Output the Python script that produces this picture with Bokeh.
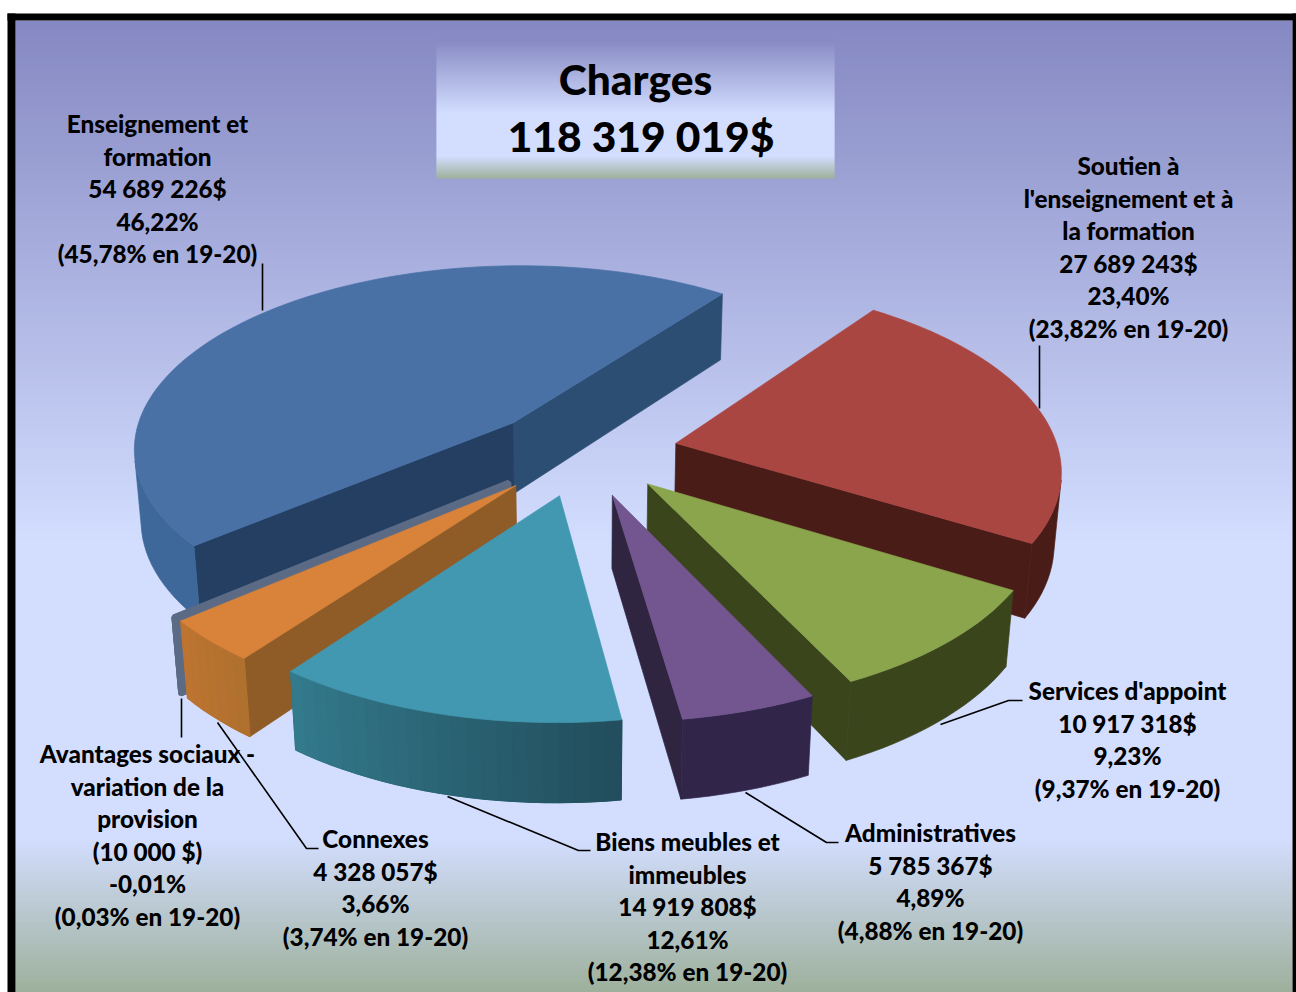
import numpy as np
from bokeh.plotting import figure, ColumnDataSource
from bokeh.embed import file_html
from bokeh.resources import INLINE
from bokeh.core.properties import value

# ---------- data ----------
categories = ["Enseignement et formation", "Avantages sociaux - variation de la provision", "Connexes",
              "Biens meubles et immeubles", "Administratives", "Services d'appoint",
              "Soutien à l'enseignement et à la formation"]
amounts = [54689226, -10000, 4328057, 14919808, 5785367, 10917318, 27689243]
name_lines = [["Enseignement et", "formation"], ["Avantages sociaux -", "variation de la", "provision"], ["Connexes"],
              ["Biens meubles et", "immeubles"], ["Administratives"], ["Services d'appoint"],
              ["Soutien à", "l'enseignement et à", "la formation"]]
amount_labels = ["54 689 226$", "(10 000 $)", "4 328 057$", "14 919 808$", "5 785 367$", "10 917 318$", "27 689 243$"]
pct_labels = ["46,22%", "-0,01%", "3,66%", "12,61%", "4,89%", "9,23%", "23,40%"]
prev_labels = ["(45,78% en 19-20)", "(0,03% en 19-20)", "(3,74% en 19-20)", "(12,38% en 19-20)",
               "(4,88% en 19-20)", "(9,37% en 19-20)", "(23,82% en 19-20)"]
title_lines = ["Charges", "118 319 019$"]

# ---------- style ----------
FONT = "Lato Black"
top_col = ["#4971A6", "#5B6A85", "#D9823A", "#4298B0", "#73558F", "#8AA54C", "#AA4642"]
rad_start = ["#2D4E73", "#5B6A85", "#8F5B26", "#2A5F70", "#2F2540", "#3A451C", "#4A1C18"]
rad_end = ["#253F62", "#5B6A85", "#8F5B26", "#2A5F70", "#2F2540", "#3A451C", "#4A1C18"]
arc_a = ["#3E689A", "#5B6A85", "#BC7430", "#337A8C", "#31264A", "#3A451C", "#4A1C18"]
arc_b = ["#3E689A", "#5B6A85", "#B0702E", "#224E5D", "#31264A", "#3A451C", "#4A1C18"]
label_pos = [(157, 123), (147, 753), (375, 838), (687, 841), (930, 832), (1127, 690), (1128, 165)]
LH = 32.5
leaders = [[(262, 263), (262, 310)], [(181, 698), (181, 737)], [(217, 722), (306, 848), (318, 848)],
           [(447, 796), (578, 850), (590, 850)], [(745, 792), (826, 842), (838, 842)],
           [(940, 724), (1008, 700), (1022, 700)], [(1039, 345), (1039, 408)]]

def hex2rgb(h):
    return np.array([int(h[i:i + 2], 16) for i in (1, 3, 5)], float)
def rgb2hex(c):
    return "#%02x%02x%02x" % tuple(int(round(v)) for v in c)

fr = np.abs(np.array(amounts, float)) / np.abs(np.array(amounts, float)).sum()

# projection of the pie: centre, radius, tilt, camera distance, first angle, thickness, explosion
P = [583.1159, 449.7085, 383.0309, 0.5042, 6.8344, 0.9318, 0.217]
EXPLODE = [0.2596, 0.2492, 0.2504, 0.2462, 0.2469, 0.242, 0.2471]
NUDGE_Y = [5, 2, 1, 0, 0, 0, 2]

def proj(x, y, z):
    cx, cy, R, t, D = P[:5]
    Y = y * np.sin(t) + z * np.cos(t)
    d = y * np.cos(t) - z * np.sin(t)
    s = D / (D + d)
    return cx + R * s * x, cy - R * s * Y

edges = P[5] + np.concatenate([[0], np.cumsum(fr) * 2 * np.pi])
a0, a1 = edges[:-1], edges[1:]

# ---------- figure ----------
p = figure(width=1296, height=992, x_range=(0, 1296), y_range=(992, 0), toolbar_location=None,
           output_backend="svg", min_border=0, outline_line_color=None, background_fill_color="white",
           border_fill_color="white")
p.axis.visible = False
p.grid.visible = False

STOPS = [0, .54, .84, 1]
COLS = [hex2rgb("#8588C2"), hex2rgb("#D3DEFF"), hex2rgb("#D3DEFF"), hex2rgb("#9DB09B")]
def grad(f):
    return rgb2hex([np.interp(f, STOPS, [c_[k] for c_ in COLS]) for k in range(3)])

def strips(x0, x1, y0, y1, step):
    ys = np.arange(y0, y1, step)
    cols = [grad((y + step/2 - y0) / (y1 - y0)) for y in ys]
    p.quad(left=x0, right=x1, top=ys, bottom=np.minimum(ys + step + .5, y1), fill_color=cols, line_color=None)

strips(15, 1292, 20, 992, 2)
strips(436, 834, 38, 178, 1)
# frame
p.quad(left=[7, 7, 1292], right=[15, 1296, 1296], top=[13, 13, 13], bottom=[992, 20, 992],
       fill_color="black", line_color=None)

# leaders
p.multi_line([[q[0] for q in l] for l in leaders], [[q[1] for q in l] for l in leaders], line_color="black", line_width=1.6)

# slices
xs, ys, fc, lc, lw = [], [], [], [], []
def add(px, py, f, w=.7):
    xs.append(list(px)); ys.append(list(py)); fc.append(f); lc.append(f); lw.append(w)

h = P[6]
for i in [0, 1, 2, 6, 5, 4, 3]:
    m = .5*(a0[i]+a1[i]); e = EXPLODE[i]
    ex, ey = e*np.cos(m), e*np.sin(m)
    th = np.linspace(a0[i], a1[i], max(2, int((a1[i]-a0[i]) / np.radians(2)) + 2))
    wx = np.concatenate([[ex], ex+np.cos(th)])
    wy = np.concatenate([[ey], ey+np.sin(th)])
    tx, ty = proj(wx, wy, 0.)
    bx, by = proj(wx, wy, -h)
    ty = ty + NUDGE_Y[i]; by = by + NUDGE_Y[i]
    n = len(wx)
    w = 5. if i == 1 else .7
    arc_segs = []
    for j in range(n):
        k = (j+1) % n
        qx = np.array([tx[j], tx[k], bx[k], bx[j]]); qy = np.array([ty[j], ty[k], by[k], by[j]])
        area = np.sum(qx*np.roll(qy, -1) - np.roll(qx, -1)*qy)
        if area <= 0 and i != 1:
            continue
        if j == 0:
            add(qx, qy, rad_start[i], w)
        elif j == n-1:
            add(qx, qy, rad_end[i], w)
        else:
            arc_segs.append((j, k, qx, qy))
    if arc_segs:
        js = [s[0] for s in arc_segs] + [arc_segs[-1][1]]
        ux = list(tx[js]) + list(bx[js][::-1]); uy = list(ty[js]) + list(by[js][::-1])
        add(ux, uy, rgb2hex(.5*(hex2rgb(arc_a[i])+hex2rgb(arc_b[i]))), w)
        if arc_a[i] != arc_b[i]:
            for j, k, qx, qy in arc_segs:
                col = rgb2hex(hex2rgb(arc_a[i]) + (hex2rgb(arc_b[i])-hex2rgb(arc_a[i])) * (j-1)/max(1, n-3))
                add(qx, qy, col, 1.2)
    add(tx, ty, top_col[i], 4. if i == 1 else .7)
p.patches("xs", "ys", source=ColumnDataSource(dict(xs=xs, ys=ys, fc=fc, lc=lc, lw=lw)),
          fill_color="fc", line_color="lc", line_width="lw")

# labels
lx, ly, lt = [], [], []
for i in range(len(categories)):
    lines = name_lines[i] + [amount_labels[i], pct_labels[i], prev_labels[i]]
    for j, s in enumerate(lines):
        lx.append(label_pos[i][0]); ly.append(label_pos[i][1] + j*LH); lt.append(s)
p.text(lx, ly, text=lt, text_font=value(FONT), text_font_style="normal", text_font_size="24.3px",
       text_align="center", text_baseline="middle", text_color="black")
p.text([635, 640.5], [78, 135], text=title_lines, text_font=value(FONT), text_font_style="normal",
       text_font_size="42.5px", text_align="center", text_baseline="middle", text_color="black")

open("out.html", "w").write(file_html(p, INLINE))
